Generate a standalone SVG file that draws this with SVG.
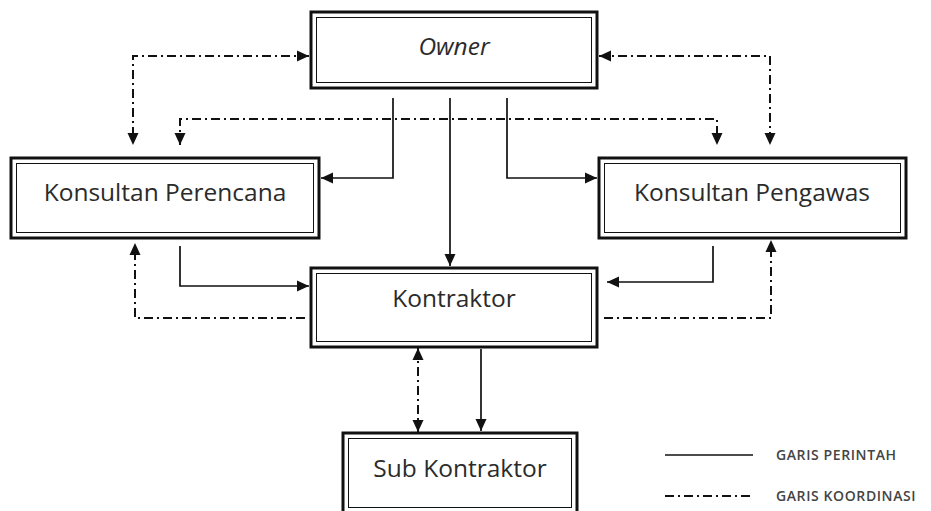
<svg xmlns="http://www.w3.org/2000/svg" width="931" height="511" viewBox="0 0 931 511">
<style>
.outer{fill:#fff;stroke:#111;stroke-width:3}
.inner{fill:none;stroke:#111;stroke-width:1}
.lbl{font-family:"Open Sans","Noto Sans",sans-serif;font-size:24.5px;fill:#2b2b2b;text-anchor:middle}
.solid{fill:none;stroke:#111;stroke-width:1.7}
.dd{fill:none;stroke:#111;stroke-width:2;stroke-dasharray:9 4 2 4}
.leg{font-family:"Open Sans","Noto Sans",sans-serif;font-size:14px;fill:#444;font-weight:600;letter-spacing:0.6px}
</style>
<defs>
<marker id="ah" viewBox="0 0 12 12" refX="12" refY="6" markerWidth="12" markerHeight="12" markerUnits="userSpaceOnUse" orient="auto-start-reverse">
<path d="M0,0.5 L12,6 L0,11.5 z" fill="#111"/>
</marker>
</defs>
<rect width="931" height="511" fill="#fff"/>
<g id="connectors">
<polyline class="solid" points="393,98 393,178 321,178" marker-end="url(#ah)"/>
<line class="solid" x1="450" y1="98" x2="450" y2="266" marker-end="url(#ah)"/>
<polyline class="solid" points="507,98 507,178 597,178" marker-end="url(#ah)"/>
<polyline class="solid" points="180,246 180,286 309,286" marker-end="url(#ah)"/>
<polyline class="solid" points="713,246 713,282 607,282" marker-end="url(#ah)"/>
<line class="solid" x1="481" y1="349" x2="481" y2="431" marker-end="url(#ah)"/>
<polyline class="dd" points="309,56 133,56 133,145" marker-start="url(#ah)" marker-end="url(#ah)"/>
<polyline class="dd" points="599,56 770,56 770,145" marker-start="url(#ah)" marker-end="url(#ah)"/>
<polyline class="dd" points="180,145 180,119 717,119 717,145" marker-start="url(#ah)" marker-end="url(#ah)"/>
<polyline class="dd" points="305,318 135,318 135,243" marker-end="url(#ah)"/>
<polyline class="dd" points="604,318 771,318 771,240" marker-end="url(#ah)"/>
<line class="dd" x1="418" y1="348" x2="418" y2="432" marker-start="url(#ah)" marker-end="url(#ah)"/>
</g>
<g id="owner">
<rect class="outer" x="311" y="12" width="286" height="76"/>
<rect class="inner" x="316.5" y="17.5" width="275" height="65"/>
<text class="lbl" x="454" y="55" font-style="italic">Owner</text>
</g>
<g id="konsultan-perencana">
<rect class="outer" x="11" y="158" width="308" height="80"/>
<rect class="inner" x="16.5" y="163.5" width="297" height="69"/>
<text class="lbl" x="165" y="201">Konsultan Perencana</text>
</g>
<g id="konsultan-pengawas">
<rect class="outer" x="599" y="158" width="307" height="80"/>
<rect class="inner" x="604.5" y="163.5" width="296" height="69"/>
<text class="lbl" x="752" y="201">Konsultan Pengawas</text>
</g>
<g id="kontraktor">
<rect class="outer" x="311" y="268" width="286" height="79"/>
<rect class="inner" x="316.5" y="273.5" width="275" height="68"/>
<text class="lbl" x="454" y="307">Kontraktor</text>
</g>
<g id="sub-kontraktor">
<rect class="outer" x="343" y="433" width="234" height="80"/>
<rect class="inner" x="348.5" y="438.5" width="223" height="69"/>
<text class="lbl" x="460" y="477">Sub Kontraktor</text>
</g>
<g id="legend">
<line class="solid" x1="665" y1="455" x2="753" y2="455"/>
<text class="leg" x="776" y="460">GARIS PERINTAH</text>
<line class="dd" x1="665" y1="496" x2="753" y2="496"/>
<text class="leg" x="776" y="501">GARIS KOORDINASI</text>
</g>
</svg>
